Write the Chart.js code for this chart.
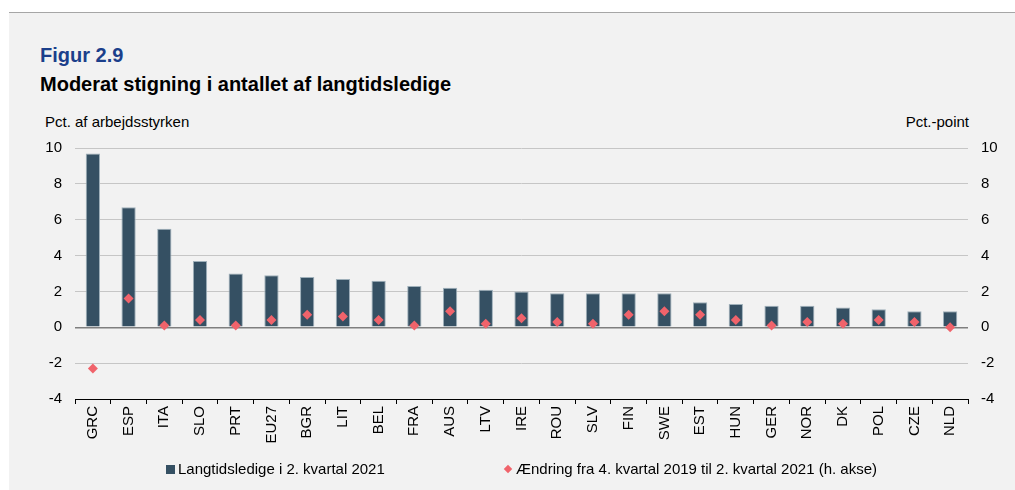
<!DOCTYPE html>
<html>
<head>
<meta charset="utf-8">
<script src="https://cdn.jsdelivr.net/npm/chart.js@4"></script>
<style>
  body { margin: 0; background: #fff; font-family: "Liberation Sans", Arial, sans-serif; }
  #wrap { position: relative; width: 1015px; height: 490px; overflow: hidden; }
  #panel { position: absolute; left: 9px; top: 12px; right: 0; bottom: 0; background: #f2f2f2; border-top: 1px solid #a6a6a6; }
  .txt { position: absolute; white-space: nowrap; }
  #fig { left: 40px; top: 44px; font-size: 20px; font-weight: bold; color: #1b3f8b; }
  #title { left: 40px; top: 73px; font-size: 20px; font-weight: bold; color: #000; }
  #unitL { left: 45px; top: 113px; font-size: 15px; color: #000; }
  #unitR { right: 46px; top: 113px; font-size: 15px; color: #000; }
  #chart { position: absolute; left: 0; top: 0; }
  .leg { position: absolute; top: 460px; font-size: 15px; color: #000; }
  .sq { display: inline-block; width: 9px; height: 9px; background: #355063; margin-right: 3px; }
  .dia { display: inline-block; width: 6px; height: 6px; background: #f0636b; transform: rotate(45deg); margin-right: 5px; margin-bottom: 2px; }
</style>
</head>
<body>
<div id="wrap">
  <div id="panel"></div>
  <div class="txt" id="fig">Figur 2.9</div>
  <div class="txt" id="title">Moderat stigning i antallet af langtidsledige</div>
  <div class="txt" id="unitL">Pct. af arbejdsstyrken</div>
  <div class="txt" id="unitR">Pct.-point</div>
  <canvas id="chart" width="1015" height="490"></canvas>
  <div class="leg" style="left:166px"><span class="sq"></span>Langtidsledige i 2. kvartal 2021</div>
  <div class="leg" style="left:505px"><span class="dia"></span>Ændring fra 4. kvartal 2019 til 2. kvartal 2021 (h. akse)</div>
</div>
<script>
const countries = ['GRC', 'ESP', 'ITA', 'SLO', 'PRT', 'EU27', 'BGR', 'LIT', 'BEL', 'FRA', 'AUS', 'LTV', 'IRE',
  'ROU', 'SLV', 'FIN', 'SWE', 'EST', 'HUN', 'GER', 'NOR', 'DK', 'POL', 'CZE', 'NLD'];
const longTerm = [9.7, 6.7, 5.5, 3.7, 3.0, 2.9, 2.8, 2.7, 2.6, 2.3, 2.2, 2.1, 2.0,
  1.9, 1.9, 1.9, 1.9, 1.4, 1.3, 1.2, 1.2, 1.1, 1.0, 0.9, 0.9];
const change = [-2.3, 1.6, 0.1, 0.4, 0.1, 0.4, 0.7, 0.6, 0.4, 0.1, 0.9, 0.2, 0.5,
  0.3, 0.2, 0.7, 0.9, 0.7, 0.4, 0.1, 0.3, 0.2, 0.4, 0.3, 0.0];
const yTicks = [-4, -2, 0, 2, 4, 6, 8, 10];

const tickFont = { family: '"Liberation Sans", Arial, sans-serif', size: 15 };

new Chart(document.getElementById('chart'), {
  type: 'bar',
  data: {
    labels: countries,
    datasets: [
      {
        type: 'line',
        label: 'Ændring fra 4. kvartal 2019 til 2. kvartal 2021 (h. akse)',
        data: change,
        yAxisID: 'y2',
        showLine: false,
        pointStyle: 'rectRot',
        pointRadius: 5,
        pointBackgroundColor: '#f0636b',
        pointBorderColor: '#f0636b',
        pointBorderWidth: 0,
      },
      {
        label: 'Langtidsledige i 2. kvartal 2021',
        data: longTerm,
        yAxisID: 'y',
        backgroundColor: '#355063',
        borderColor: '#9fb0ba',
        borderWidth: { top: 1, left: 1, right: 1, bottom: 0 },
        barPercentage: 0.4,
        categoryPercentage: 1,
      },
    ],
  },
  options: {
    responsive: false,
    animation: false,
    layout: { padding: { top: 148, bottom: 41, left: 0, right: 0 } },
    plugins: { legend: { display: false }, tooltip: { enabled: false } },
    scales: {
      x: {
        grid: { offset: true, drawOnChartArea: false, drawTicks: true, tickLength: 5, color: '#000' },
        border: { display: true, color: '#000', width: 1 },
        ticks: { color: '#000', font: tickFont, minRotation: 90, maxRotation: 90, padding: 2, autoSkip: false },
        afterFit: (s) => { s.height = 50; },
      },
      y: {
        position: 'left',
        min: -4, max: 10,
        afterBuildTicks: (s) => { s.ticks = yTicks.map(v => ({ value: v })); },
        grid: {
          drawTicks: false,
          color: (c) => c.tick.value === 0 ? '#7f7f7f' : (c.tick.value === -4 ? 'rgba(0,0,0,0)' : '#c6c6c6'),
          lineWidth: (c) => c.tick.value === 0 ? 1.5 : 1,
        },
        border: { display: false },
        ticks: { color: '#000', font: tickFont, padding: 13 },
        afterFit: (s) => { s.width = 75; },
      },
      y2: {
        position: 'right',
        min: -4, max: 10,
        afterBuildTicks: (s) => { s.ticks = yTicks.map(v => ({ value: v })); },
        grid: { display: false, drawTicks: false },
        border: { display: false },
        ticks: { color: '#000', font: tickFont, padding: 13 },
        afterFit: (s) => { s.width = 47; },
      },
    },
  },
});
</script>
</body>
</html>
